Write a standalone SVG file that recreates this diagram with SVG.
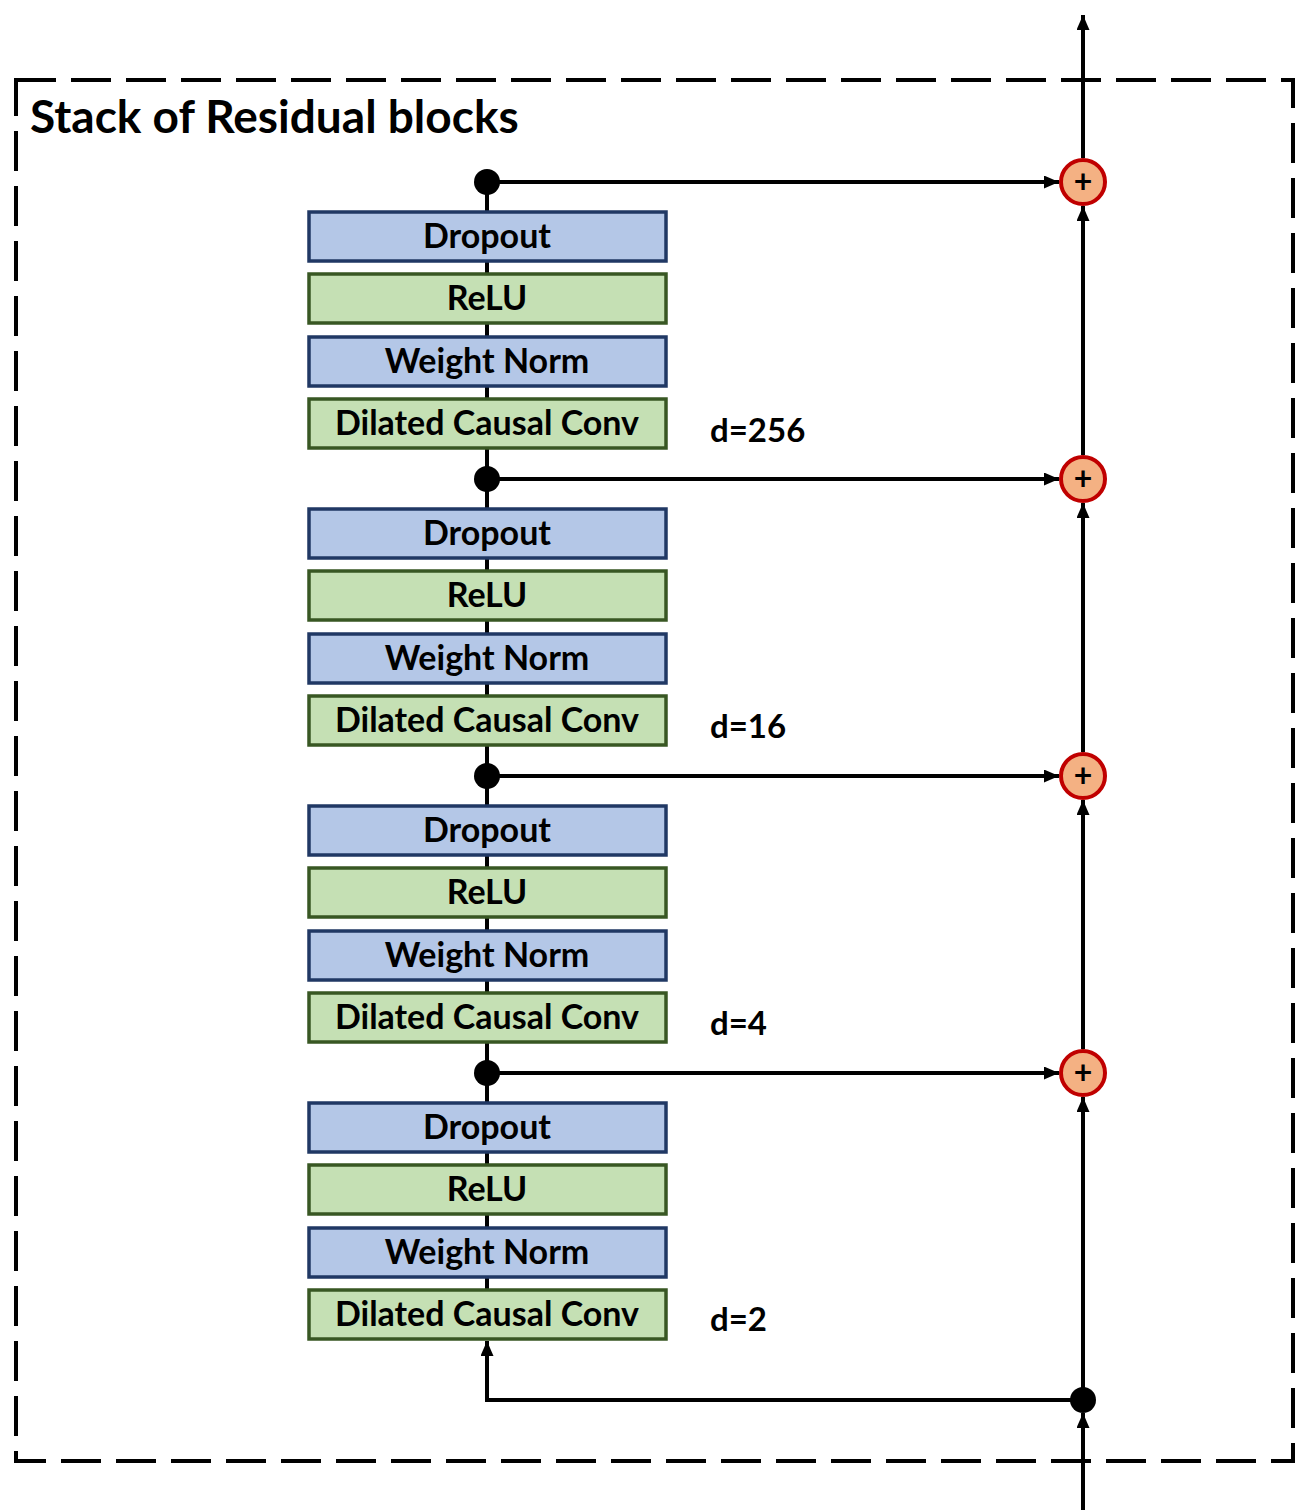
<svg xmlns="http://www.w3.org/2000/svg" width="1296" height="1510" viewBox="0 0 1296 1510">
<style>
  text { font-family: "Lato", "Open Sans", "Liberation Sans", sans-serif; font-weight: bold; fill: #000; }
  .lbl { font-size: 34px; text-anchor: middle; }
  .d { font-size: 33px; }
  .blue { fill: #b4c7e7; stroke: #203864; stroke-width: 3.5; }
  .green { fill: #c5e0b4; stroke: #385723; stroke-width: 3.5; }
  .wire { stroke: #000; stroke-width: 4; fill: none; }
  .dot { fill: #000; }
  .sum circle { fill: #f4b183; stroke: #c00000; stroke-width: 4; }
  .plus { font-size: 32px; text-anchor: middle; }
</style>
<defs>
  <marker id="ah" viewBox="0 0 15 13" refX="15" refY="6.5" markerWidth="15" markerHeight="13" markerUnits="userSpaceOnUse" orient="auto">
    <path d="M0,0 L15,6.5 L0,13 z" fill="#000"/>
  </marker>
</defs>
<rect x="16" y="80" width="1277" height="1381" fill="none" stroke="#000" stroke-width="4" stroke-dasharray="40 15"/>
<text x="30" y="133" style="font-size:46px">Stack of Residual blocks</text>
<g id="connectors">
  <line class="wire" x1="487" y1="182" x2="487" y2="1290"/>
  <line class="wire" x1="487" y1="182" x2="1059" y2="182" marker-end="url(#ah)"/>
  <line class="wire" x1="487" y1="479" x2="1059" y2="479" marker-end="url(#ah)"/>
  <line class="wire" x1="487" y1="776" x2="1059" y2="776" marker-end="url(#ah)"/>
  <line class="wire" x1="487" y1="1073" x2="1059" y2="1073" marker-end="url(#ah)"/>
  <line class="wire" x1="1083" y1="1510" x2="1083" y2="1413" marker-end="url(#ah)"/>
  <line class="wire" x1="1083" y1="1400" x2="1083" y2="1097" marker-end="url(#ah)"/>
  <line class="wire" x1="1083" y1="1049" x2="1083" y2="800" marker-end="url(#ah)"/>
  <line class="wire" x1="1083" y1="752" x2="1083" y2="503" marker-end="url(#ah)"/>
  <line class="wire" x1="1083" y1="455" x2="1083" y2="206" marker-end="url(#ah)"/>
  <line class="wire" x1="1083" y1="158" x2="1083" y2="15" marker-end="url(#ah)"/>
  <polyline class="wire" points="1083,1400 487,1400 487,1341" marker-end="url(#ah)"/>
  <circle class="dot" cx="487" cy="182" r="13"/>
  <circle class="dot" cx="487" cy="479" r="13"/>
  <circle class="dot" cx="487" cy="776" r="13"/>
  <circle class="dot" cx="487" cy="1073" r="13"/>
  <circle class="dot" cx="1083" cy="1400" r="13"/>
</g>
<g id="sum1" class="sum"><circle cx="1083" cy="182" r="22"/><text class="plus" x="1083" y="193">+</text></g>
<g id="sum2" class="sum"><circle cx="1083" cy="479" r="22"/><text class="plus" x="1083" y="490">+</text></g>
<g id="sum3" class="sum"><circle cx="1083" cy="776" r="22"/><text class="plus" x="1083" y="787">+</text></g>
<g id="sum4" class="sum"><circle cx="1083" cy="1073" r="22"/><text class="plus" x="1083" y="1084">+</text></g>

<g id="dropout1"><rect class="blue" x="309" y="212" width="357" height="49"/><text class="lbl" x="487" y="248">Dropout</text></g>
<g id="relu1"><rect class="green" x="309" y="274" width="357" height="49"/><text class="lbl" x="487" y="310">ReLU</text></g>
<g id="wnorm1"><rect class="blue" x="309" y="337" width="357" height="49"/><text class="lbl" x="487" y="373">Weight Norm</text></g>
<g id="conv1"><rect class="green" x="309" y="399" width="357" height="49"/><text class="lbl" x="487" y="435">Dilated Causal Conv</text></g>
<text class="d" x="710" y="442">d=256</text>

<g id="dropout2"><rect class="blue" x="309" y="509" width="357" height="49"/><text class="lbl" x="487" y="545">Dropout</text></g>
<g id="relu2"><rect class="green" x="309" y="571" width="357" height="49"/><text class="lbl" x="487" y="607">ReLU</text></g>
<g id="wnorm2"><rect class="blue" x="309" y="634" width="357" height="49"/><text class="lbl" x="487" y="670">Weight Norm</text></g>
<g id="conv2"><rect class="green" x="309" y="696" width="357" height="49"/><text class="lbl" x="487" y="732">Dilated Causal Conv</text></g>
<text class="d" x="710" y="738">d=16</text>

<g id="dropout3"><rect class="blue" x="309" y="806" width="357" height="49"/><text class="lbl" x="487" y="842">Dropout</text></g>
<g id="relu3"><rect class="green" x="309" y="868" width="357" height="49"/><text class="lbl" x="487" y="904">ReLU</text></g>
<g id="wnorm3"><rect class="blue" x="309" y="931" width="357" height="49"/><text class="lbl" x="487" y="967">Weight Norm</text></g>
<g id="conv3"><rect class="green" x="309" y="993" width="357" height="49"/><text class="lbl" x="487" y="1029">Dilated Causal Conv</text></g>
<text class="d" x="710" y="1035">d=4</text>

<g id="dropout4"><rect class="blue" x="309" y="1103" width="357" height="49"/><text class="lbl" x="487" y="1139">Dropout</text></g>
<g id="relu4"><rect class="green" x="309" y="1165" width="357" height="49"/><text class="lbl" x="487" y="1201">ReLU</text></g>
<g id="wnorm4"><rect class="blue" x="309" y="1228" width="357" height="49"/><text class="lbl" x="487" y="1264">Weight Norm</text></g>
<g id="conv4"><rect class="green" x="309" y="1290" width="357" height="49"/><text class="lbl" x="487" y="1326">Dilated Causal Conv</text></g>
<text class="d" x="710" y="1331">d=2</text>
</svg>
